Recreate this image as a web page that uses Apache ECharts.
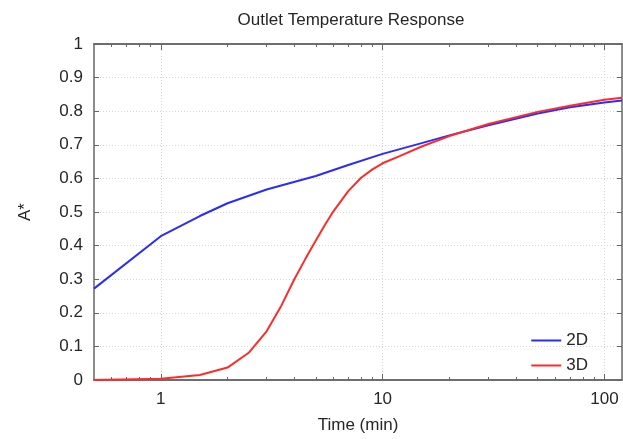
<!DOCTYPE html>
<html>
<head>
<meta charset="utf-8">
<script src="https://cdn.jsdelivr.net/npm/echarts@6/dist/echarts.min.js"></script>
<style>
	html, body { margin: 0; padding: 0; background: #fff; }
	#chart { width: 623px; height: 439px; }
</style>
</head>
<body>
<div id="chart"></div>
<script>
// time (min) and A* for the two models
const time2D = [0.5, 1, 1.5, 2, 3, 5, 7, 10, 15, 20, 30, 50, 70, 100, 120];
const a2D = [0.272, 0.428, 0.488, 0.526, 0.567, 0.607, 0.640, 0.673, 0.705, 0.728, 0.758, 0.793, 0.812, 0.826, 0.832];
const time3D = [0.5, 1, 1.5, 2, 2.5, 3, 3.5, 4, 4.5, 5, 5.5, 6, 7, 8, 9, 10, 12, 15, 20, 30, 50, 70, 100, 120];
const a3D = [0, 0.004, 0.015, 0.037, 0.082, 0.145, 0.222, 0.3, 0.362, 0.415, 0.462, 0.502, 0.562, 0.602, 0.627, 0.645, 0.667, 0.695, 0.726, 0.762, 0.798, 0.816, 0.834, 0.840];
const xMajor = [1, 10, 100];
const xMinor = [0.6, 0.7, 0.8, 0.9, 2, 3, 4, 5, 6, 7, 8, 9, 20, 30, 40, 50, 60, 70, 80, 90];

function zip(xs, ys) {
	return xs.map(function (x, i) { return [x, ys[i]]; });
}

function initChart() {
	let myChart = echarts.init(document.getElementById('chart'));
	const axisColor = '#666';
	const textColor = '#262626';
	const font = 'Liberation Sans, Arial, sans-serif';
	const fs = 17;

	function xAxisBase(pos, showLabel, ticks, len) {
		return {
			type: 'log',
			logBase: 10,
			min: 0.5,
			max: 120,
			position: pos,
			axisLine: { show: true, lineStyle: { color: axisColor, width: 1.5 } },
			axisTick: { show: true, inside: true, length: len, customValues: ticks, lineStyle: { color: axisColor } },
			axisLabel: { show: showLabel, customValues: xMajor, color: textColor, fontSize: fs, fontFamily: font, margin: 11 },
			splitLine: { show: false }
		};
	}

	let bottomMajor = xAxisBase('bottom', true, xMajor, 6);
	bottomMajor.name = 'Time (min)';
	bottomMajor.nameLocation = 'middle';
	bottomMajor.nameGap = 37;
	bottomMajor.nameTextStyle = { color: textColor, fontSize: fs, fontFamily: font };
	bottomMajor.splitLine = { show: true, lineStyle: { color: '#d6d6d6', type: [1, 2], width: 1 } };

	function yAxisBase(pos, showLabel) {
		return {
			type: 'value',
			min: 0,
			max: 1,
			interval: 0.1,
			position: pos,
			axisLine: { show: true, lineStyle: { color: axisColor, width: 1.5 } },
			axisTick: { show: true, inside: true, length: 5, lineStyle: { color: axisColor } },
			axisLabel: { show: showLabel, color: textColor, fontSize: fs, fontFamily: font, margin: 11 },
			splitLine: { show: false }
		};
	}

	let yLeft = yAxisBase('left', true);
	yLeft.name = 'A*';
	yLeft.nameLocation = 'middle';
	yLeft.nameGap = 60;
	yLeft.nameRotate = 90;
	yLeft.nameTextStyle = { color: textColor, fontSize: fs, fontFamily: font };
	yLeft.splitLine = { show: true, lineStyle: { color: '#d6d6d6', type: [1, 2], width: 1 } };

	let option = {
		animation: false,
		backgroundColor: '#fff',
		title: {
			text: 'Outlet Temperature Response',
			left: 346,
			textAlign: 'center',
			top: 7,
			textStyle: { color: textColor, fontSize: fs, fontWeight: 'normal', fontFamily: font }
		},
		legend: {
			orient: 'vertical',
			right: 30,
			top: 327,
			itemWidth: 30,
			itemHeight: 2,
			itemGap: 8,
			icon: 'rect',
			textStyle: { color: textColor, fontSize: fs, fontFamily: font },
			data: ['2D', '3D']
		},
		grid: {
			left: 94,
			right: 1,
			top: 44,
			bottom: 57
		},
		xAxis: [
			bottomMajor,
			xAxisBase('bottom', false, xMinor, 3),
			xAxisBase('top', false, xMajor, 6),
			xAxisBase('top', false, xMinor, 3)
		],
		yAxis: [
			yLeft,
			yAxisBase('right', false)
		],
		series: [
			{
				name: '2D',
				type: 'line',
				data: zip(time2D, a2D),
				showSymbol: false,
				smooth: false,
				lineStyle: { width: 2, color: '#2b2bff' },
				itemStyle: { color: '#2b2bff' }
			},
			{
				name: '3D',
				type: 'line',
				data: zip(time3D, a3D),
				showSymbol: false,
				smooth: false,
				lineStyle: { width: 2, color: '#ff2b2b' },
				itemStyle: { color: '#ff2b2b' }
			}
		]
	};

	myChart.setOption(option);
	return myChart;
}

initChart();
</script>
</body>
</html>
